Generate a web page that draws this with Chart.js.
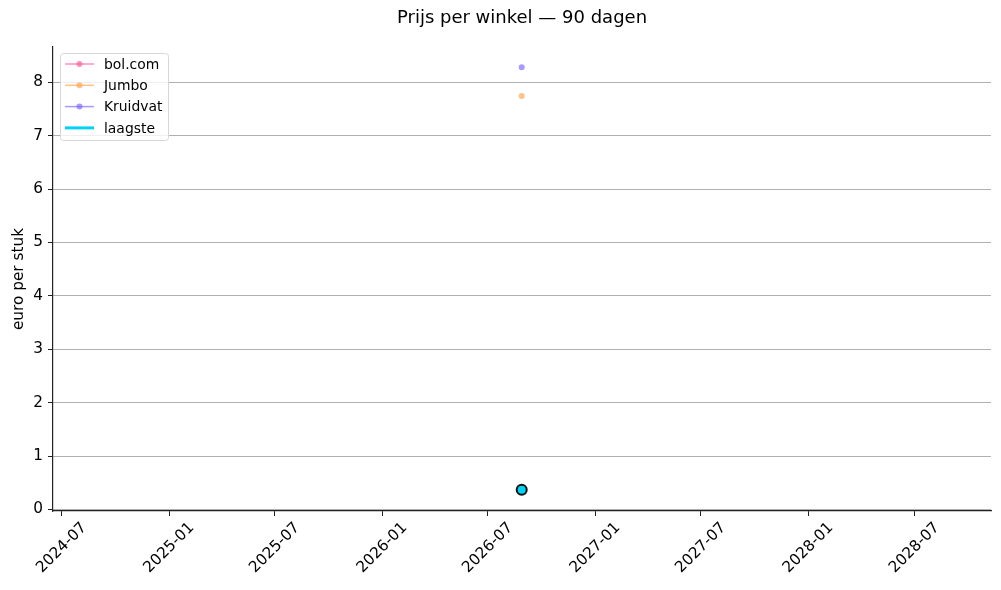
<!DOCTYPE html>
<html lang="nl">
<head>
<meta charset="UTF-8">
<title>Prijs per winkel</title>
<style>
  html, body { margin: 0; padding: 0; background: #fff; }
  #wrap { width: 1001px; height: 590px; }
</style>
</head>
<body>
<div id="wrap"><canvas id="prijsChart" width="1001" height="590"></canvas></div>
<script src="https://cdn.jsdelivr.net/npm/chart.js"></script>
<script>
// gegevens
const datums = ['2026-08-28'];
const bolcom = [0.37];
const jumbo = [7.74];
const kruidvat = [8.28];
const laagste = [0.37];

const xTicks = ['2024-07', '2025-01', '2025-07', '2026-01', '2026-07', '2027-01', '2027-07', '2028-01', '2028-07'];
const yTicks = [0, 1, 2, 3, 4, 5, 6, 7, 8];
const xBereik = ['2024-06-16', '2028-11-09'];
const yBereik = [-0.03, 8.66];
const titel = 'Prijs per winkel — 90 dagen';

const ms = s => Date.parse(s.length === 7 ? s + '-01T00:00:00Z' : s + 'T00:00:00Z');
const punten = arr => arr.map((v, i) => ({ x: ms(datums[i]), y: v }));
const maandLabel = v => { const d = new Date(v); return d.getUTCFullYear() + '-' + String(d.getUTCMonth() + 1).padStart(2, '0'); };

const FONT = 'DejaVu Sans';
const TICKPX = 15.3;
Chart.defaults.font.family = FONT;
Chart.defaults.color = '#000';

// titel boven het plotvlak, legenda binnen het plotvlak + schuine datumlabels, zoals matplotlib
const mplExtra = {
  id: 'mplExtra',
  afterDraw(chart) {
    const c = chart.ctx;
    const a = chart.chartArea;

    // titel gecentreerd boven de assen
    c.save();
    c.font = '18px "' + FONT + '"';
    c.fillStyle = '#000';
    c.textAlign = 'center';
    c.textBaseline = 'middle';
    c.fillText(titel, (a.left + a.right) / 2, 18);
    c.restore();

    // datumlabels, 45 graden, gecentreerd onder de tick
    const sx = chart.scales.x;
    c.save();
    c.font = TICKPX + 'px "' + FONT + '"';
    c.fillStyle = '#000';
    c.textAlign = 'center';
    c.textBaseline = 'middle';
    sx.ticks.forEach(t => {
      const txt = maandLabel(t.value);
      const w = c.measureText(txt).width;
      const half = (w + TICKPX * 0.8) * Math.SQRT1_2 / 2;
      const px = sx.getPixelForValue(t.value);
      c.save();
      c.translate(px, a.bottom + 10 + half);
      c.rotate(-Math.PI / 4);
      c.fillText(txt, 0, 0);
      c.restore();
    });
    c.restore();

    // legenda
    const x0 = a.left + 7, y0 = a.top + 6;
    const w = 108, h = 87;
    c.save();
    c.fillStyle = 'rgba(255,255,255,0.8)';
    c.strokeStyle = '#d6d6d6';
    c.lineWidth = 1;
    c.beginPath();
    c.roundRect(x0 + 0.5, y0 + 0.5, w, h, 3);
    c.fill();
    c.stroke();
    c.font = '13.9px "' + FONT + '"';
    c.textBaseline = 'middle';
    chart.data.datasets.forEach((ds, i) => {
      const y = y0 + 11 + i * 21.3;
      c.strokeStyle = ds.borderColor;
      c.lineWidth = ds.legendLijn;
      c.beginPath();
      c.moveTo(x0 + 5, y);
      c.lineTo(x0 + 34, y);
      c.stroke();
      if (ds.legendPunt) {
        c.fillStyle = ds.pointBackgroundColor;
        c.beginPath();
        c.arc(x0 + 19.5, y, 3, 0, Math.PI * 2);
        c.fill();
      }
      c.fillStyle = '#000';
      c.fillText(ds.label, x0 + 44, y + 1);
    });
    c.restore();
  }
};

new Chart(document.getElementById('prijsChart'), {
  type: 'line',
  data: {
    datasets: [
      { label: 'bol.com', data: punten(bolcom), borderColor: 'rgba(255,105,170,0.75)', pointBackgroundColor: 'rgba(255,105,170,0.75)',
        pointBorderWidth: 0, pointRadius: 3, borderWidth: 1.5, legendLijn: 1.5, legendPunt: true, order: 1 },
      { label: 'Jumbo', data: punten(jumbo), borderColor: 'rgba(255,160,70,0.65)', pointBackgroundColor: 'rgba(255,160,70,0.65)',
        pointBorderWidth: 0, pointRadius: 3, borderWidth: 1.5, legendLijn: 1.5, legendPunt: true, order: 1 },
      { label: 'Kruidvat', data: punten(kruidvat), borderColor: 'rgba(125,100,255,0.65)', pointBackgroundColor: 'rgba(125,100,255,0.65)',
        pointBorderWidth: 0, pointRadius: 3, borderWidth: 1.5, legendLijn: 1.5, legendPunt: true, order: 1 },
      { label: 'laagste', data: punten(laagste), borderColor: '#00d2f5', pointBackgroundColor: '#00d2f5',
        pointBorderColor: '#111', pointBorderWidth: 2, pointRadius: 5, borderWidth: 2.5, legendLijn: 3, legendPunt: false, order: 0 }
    ]
  },
  options: {
    responsive: false,
    animation: false,
    layout: { padding: { left: 0, right: 10, top: 47, bottom: 0 } },
    plugins: {
      legend: { display: false },
      tooltip: { enabled: false },
      title: { display: false }
    },
    scales: {
      x: {
        type: 'linear',
        min: ms(xBereik[0]),
        max: ms(xBereik[1]),
        afterBuildTicks: s => { s.ticks = xTicks.map(t => ({ value: ms(t) })); },
        afterFit: s => { s.height = 79; },
        ticks: { display: false },
        grid: { drawOnChartArea: false, drawTicks: true, tickLength: 5, tickColor: '#222', tickWidth: 1 },
        border: { display: true, color: '#222', width: 1.2 }
      },
      y: {
        min: yBereik[0],
        max: yBereik[1],
        afterBuildTicks: s => { s.ticks = yTicks.map(v => ({ value: v })); },
        afterFit: s => { s.width = 53; },
        ticks: { font: { size: TICKPX }, color: '#000', padding: 5 },
        grid: { color: '#b0b0b0', lineWidth: 1, tickLength: 5, tickColor: '#222' },
        border: { display: true, color: '#222', width: 1.2 },
        title: { display: true, text: 'euro per stuk', font: { size: TICKPX }, color: '#000', padding: { top: 10, bottom: 0 } }
      }
    }
  },
  plugins: [mplExtra]
});
</script>
</body>
</html>
